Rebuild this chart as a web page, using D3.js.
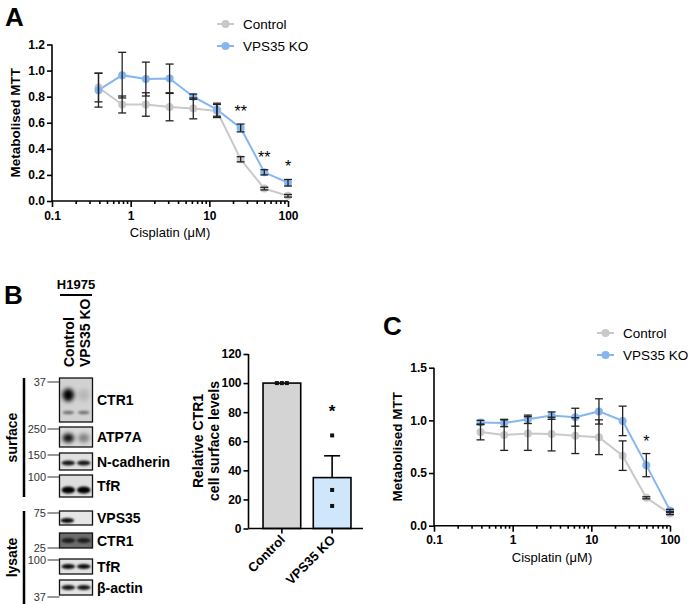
<!DOCTYPE html>
<html><head><meta charset="utf-8">
<script src="https://cdn.jsdelivr.net/npm/d3@7/dist/d3.min.js"></script>
<style>
body{margin:0;background:#fff;}
text{font-family:"Liberation Sans",Arial,sans-serif;}
</style></head>
<body>
<script>
// ---------- DATA ----------
const conc = [0.39, 0.78, 1.56, 3.125, 6.25, 12.5, 25, 50, 100];
const aControl = [0.87, 0.74, 0.74, 0.72, 0.71, 0.69, 0.32, 0.095, 0.04];
const aControlErr = [0.11, 0.065, 0.09, 0.105, 0.08, 0.05, 0.02, 0.01, 0.01];
const aKO = [0.85, 0.965, 0.935, 0.94, 0.80, 0.70, 0.56, 0.22, 0.14];
const aKOErr = [0.13, 0.175, 0.13, 0.11, 0.02, 0.05, 0.03, 0.02, 0.025];
const aStars = ["", "", "", "", "", "", "**", "**", "*"];

const cControl = [0.89, 0.86, 0.875, 0.87, 0.855, 0.84, 0.665, 0.265, 0.115];
const cControlErr = [0.075, 0.145, 0.16, 0.16, 0.17, 0.165, 0.14, 0.01, 0.01];
const cKO = [0.98, 0.975, 1.01, 1.045, 1.03, 1.085, 0.995, 0.575, 0.145];
const cKOErr = [0.02, 0.035, 0.04, 0.035, 0.085, 0.12, 0.14, 0.11, 0.01];
const cStars = ["", "", "", "", "", "", "", "*", ""];

const seriesNames = ["Control", "VPS35 KO"];
const xTickLabels = ["0.1", "1", "10", "100"];
const aYTicks = [0, 0.2, 0.4, 0.6, 0.8, 1.0, 1.2];
const cYTicks = [0, 0.5, 1.0, 1.5];

const barCats = ["Control", "VPS35 KO"];
const barMeans = [100, 35];
const barErr = [0, 15];
const barPoints = [[100, 100, 100], [64, 26.5, 15.5]];
const barYTicks = [0, 20, 40, 60, 80, 100, 120];

const blotNames = ["CTR1", "ATP7A", "N-cadherin", "TfR", "VPS35", "CTR1", "TfR", "β-actin"];
const blotCtrl = [1.0, 0.95, 0.9, 1.0, 0.95, 0.75, 0.95, 0.9];
const blotKO = [0.12, 0.4, 0.9, 1.0, 0.0, 0.75, 0.95, 0.9];
const blotMW = ["37", "250", "150", "100", "75", "25", "100", "37"];
const laneNames = ["Control", "VPS35 KO"];

// ---------- STYLE ----------
const grey = "#c9c9c9", blue = "#86b6f2", ink = "#222";
const svg = d3.select("body").append("svg").attr("width", 689).attr("height", 604);
const defs = svg.append("defs");
defs.append("filter").attr("id", "blur").attr("x", "-50%").attr("y", "-100%").attr("width", "200%").attr("height", "300%")
  .append("feGaussianBlur").attr("stdDeviation", 1.1);
defs.append("filter").attr("id", "blur2").attr("x", "-50%").attr("y", "-100%").attr("width", "200%").attr("height", "300%")
  .append("feGaussianBlur").attr("stdDeviation", 2.2);

function panelLabel(t, x, y) {
  svg.append("text").attr("x", x).attr("y", y).text(t)
    .attr("font-size", 26).attr("font-weight", "bold").attr("fill", "#000");
}

function doseChart(o) {
  const g = svg.append("g");
  const x = d3.scaleLog().domain([0.1, 100]).range([o.x0, o.x1]);
  const y = d3.scaleLinear().domain([0, o.ymax]).range([o.y0, o.y1]);
  const minor = [];
  for (let d = 0.1; d < 100; d *= 10) for (let k = 2; k <= 9; k++) minor.push(+(d * k).toPrecision(3));
  const xa = g.append("g").attr("transform", `translate(0,${o.y0})`)
    .call(d3.axisBottom(x).tickValues([0.1, 1, 10, 100]).tickFormat((d, i) => xTickLabels[i]).tickSize(6).tickPadding(4));
  const xm = g.append("g").attr("transform", `translate(0,${o.y0})`)
    .call(d3.axisBottom(x).tickValues(minor).tickFormat("").tickSize(3));
  xm.select(".domain").remove();
  const ya = g.append("g").attr("transform", `translate(${o.x0},0)`)
    .call(d3.axisLeft(y).tickValues(o.yTicks).tickFormat(d3.format(".1f")).tickSize(5).tickPadding(2));
  [xa, xm, ya].forEach(a => {
    a.selectAll("path,line").attr("stroke", "#000").attr("stroke-width", 1.6);
    a.selectAll("text").attr("font-size", 12).attr("font-weight", "bold").attr("fill", "#000");
  });
  xa.select(".domain").attr("d", `M${o.x0},0H${o.x1}`);
  ya.select(".domain").attr("d", `M0,${o.y0}V${o.y1}`);
  g.append("text").attr("x", (o.x0 + o.x1) / 2).attr("y", o.y0 + 36).attr("text-anchor", "middle")
    .attr("font-size", 13).text("Cisplatin (μM)");
  g.append("text").attr("transform", `translate(${o.x0 - 32},${(o.y0 + o.y1) / 2}) rotate(-90)`)
    .attr("text-anchor", "middle").attr("font-size", 13.5).attr("font-weight", "bold").text("Metabolised MTT");
  const series = [[o.ctrl, o.ctrlErr, grey], [o.ko, o.koErr, blue]];
  const line = d3.line().x((d, i) => x(conc[i])).y(d => y(d));
  series.forEach(([v, e, c]) => {
    g.append("path").datum(v).attr("d", line).attr("fill", "none").attr("stroke", c).attr("stroke-width", 2);
  });
  series.forEach(([v, e, c]) => {
    g.selectAll(null).data(v).enter().append("circle")
      .attr("cx", (d, i) => x(conc[i])).attr("cy", d => y(d)).attr("r", 4).attr("fill", c);
  });
  series.forEach(([v, e, c]) => {
    const eb = g.selectAll(null).data(v).enter().append("g").attr("stroke", ink).attr("stroke-width", 1.3);
    eb.append("line").attr("x1", (d, i) => x(conc[i])).attr("x2", (d, i) => x(conc[i]))
      .attr("y1", (d, i) => y(d - e[i])).attr("y2", (d, i) => y(d + e[i]));
    eb.append("line").attr("x1", (d, i) => x(conc[i]) - 4).attr("x2", (d, i) => x(conc[i]) + 4)
      .attr("y1", (d, i) => y(d - e[i])).attr("y2", (d, i) => y(d - e[i]));
    eb.append("line").attr("x1", (d, i) => x(conc[i]) - 4).attr("x2", (d, i) => x(conc[i]) + 4)
      .attr("y1", (d, i) => y(d + e[i])).attr("y2", (d, i) => y(d + e[i]));
  });
  g.selectAll(null).data(o.stars).enter().append("text")
    .attr("x", (d, i) => x(conc[i])).attr("y", (d, i) => y(o.ko[i] + o.koErr[i]) - 7)
    .attr("text-anchor", "middle").attr("font-size", 16).attr("fill", "#000").text(d => d);
  seriesNames.forEach((n, i) => {
    const ly = o.ly + i * 22, c = i ? blue : grey;
    g.append("line").attr("x1", o.lx).attr("x2", o.lx + 17).attr("y1", ly).attr("y2", ly).attr("stroke", c).attr("stroke-width", 2);
    g.append("circle").attr("cx", o.lx + 8.5).attr("cy", ly).attr("r", 4).attr("fill", c);
    g.append("text").attr("x", o.lx + 26).attr("y", ly + 5).attr("font-size", 13.5).text(n);
  });
}

// ---------- PANEL A ----------
panelLabel("A", 5, 26);
doseChart({x0: 52, x1: 288, y0: 201, y1: 44.5, ymax: 1.2, yTicks: aYTicks,
  ctrl: aControl, ctrlErr: aControlErr, ko: aKO, koErr: aKOErr, stars: aStars, lx: 217, ly: 24});

// ---------- PANEL C ----------
panelLabel("C", 383, 335);
doseChart({x0: 434, x1: 670, y0: 525.7, y1: 367.7, ymax: 1.5, yTicks: cYTicks,
  ctrl: cControl, ctrlErr: cControlErr, ko: cKO, koErr: cKOErr, stars: cStars, lx: 597, ly: 333});

// ---------- PANEL B : blots ----------
panelLabel("B", 4, 304);
const bx0 = 59.5, bx1 = 92.5;
const boxes = [[378, 422], [427, 447], [453, 470], [475, 497], [511, 525], [533, 548], [559, 574], [580, 595]];
const bandY = [395, 438, 463, 490, 520.5, 540.5, 566.5, 587.5];
const bg = ["#d2d2d2", "#dadada", "#e0e0e0", "#dedede", "#e6e6e6", "#6c6c6c", "#e2e2e2", "#e4e4e4"];
const lane = d3.scaleBand().domain(laneNames).range([bx0 + 2, bx1 - 2]).paddingInner(0.12);
const bl = svg.append("g");
blotNames.forEach((n, i) => {
  const [t, b] = boxes[i];
  bl.append("rect").attr("x", bx0).attr("y", t).attr("width", bx1 - bx0).attr("height", b - t)
    .attr("fill", bg[i]).attr("stroke", "#111").attr("stroke-width", 1.3);
  [blotCtrl[i], blotKO[i]].forEach((v, j) => {
    if (v <= 0) return;
    const cx = lane(laneNames[j]) + lane.bandwidth() / 2;
    const big = i === 0 || i === 1;
    const ry = i === 0 ? (j === 0 ? 6.5 : 6) : i === 3 ? 3.6 : i === 1 ? 4.5 : 2.4;
    bl.append("ellipse").attr("cx", cx + (i === 4 && j === 0 ? -1 : 0)).attr("cy", bandY[i]).attr("rx", lane.bandwidth() / 2 - (big ? 1 : 0))
      .attr("ry", ry).attr("fill", "#000").attr("opacity", v)
      .attr("filter", big ? "url(#blur2)" : "url(#blur)");
    if (i === 0) {
      bl.append("ellipse").attr("cx", cx).attr("cy", 412.5).attr("rx", lane.bandwidth() / 2 - 1).attr("ry", 1.8)
        .attr("fill", "#000").attr("opacity", 0.45).attr("filter", "url(#blur)");
    }
  });
  bl.append("text").attr("x", 97).attr("y", (t + b) / 2 + 5).attr("font-size", 14).attr("font-weight", "bold").text(n);
});
// molecular-weight markers
const mwY = [382, 429, 455, 477, 513, 548, 560, 597];
blotMW.forEach((m, i) => {
  const yy = mwY[i];
  bl.append("text").attr("x", 46).attr("y", yy + 4).attr("text-anchor", "end").attr("font-size", 11).attr("fill", "#333").text(m);
  bl.append("line").attr("x1", 47.5).attr("x2", bx0).attr("y1", yy).attr("y2", yy).attr("stroke", "#333").attr("stroke-width", 1);
});
// lane headers
bl.append("text").attr("x", 76).attr("y", 289).attr("text-anchor", "middle").attr("font-size", 13).attr("font-weight", "bold").text("H1975");
bl.append("line").attr("x1", 60).attr("x2", 92).attr("y1", 295).attr("y2", 295).attr("stroke", "#000").attr("stroke-width", 2);
laneNames.forEach(n => {
  const cx = lane(n) + lane.bandwidth() / 2 + 6;
  bl.append("text").attr("transform", `translate(${cx},367) rotate(-90)`).attr("font-size", 14).attr("font-weight", "bold").text(n);
});
[["surface", 378, 497], ["lysate", 511, 604]].forEach(([n, t, b]) => {
  bl.append("line").attr("x1", 24).attr("x2", 24).attr("y1", t).attr("y2", b).attr("stroke", "#000").attr("stroke-width", 2.5);
  bl.append("text").attr("transform", `translate(${17},${(t + b) / 2}) rotate(-90)`).attr("text-anchor", "middle")
    .attr("font-size", 14).attr("font-weight", "bold").text(n);
});

// ---------- PANEL B : bar chart ----------
const bg2 = svg.append("g");
const bxs = d3.scaleBand().domain(barCats).range([258, 356]).paddingInner(0.25).paddingOuter(0.1);
const bys = d3.scaleLinear().domain([0, 120]).range([528.5, 354]);
const barFill = ["#d4d4d4", "#d0e6fb"];
bg2.selectAll(null).data(barMeans).enter().append("rect")
  .attr("x", (d, i) => bxs(barCats[i])).attr("width", bxs.bandwidth())
  .attr("y", d => bys(d)).attr("height", d => bys(0) - bys(d))
  .attr("fill", (d, i) => barFill[i]).attr("stroke", "#000").attr("stroke-width", 1.6);
barMeans.forEach((m, i) => {
  if (!barErr[i]) return;
  const cx = bxs(barCats[i]) + bxs.bandwidth() / 2;
  bg2.append("line").attr("x1", cx).attr("x2", cx).attr("y1", bys(m)).attr("y2", bys(m + barErr[i])).attr("stroke", "#000").attr("stroke-width", 1.6);
  bg2.append("line").attr("x1", cx - 8).attr("x2", cx + 8).attr("y1", bys(m + barErr[i])).attr("y2", bys(m + barErr[i])).attr("stroke", "#000").attr("stroke-width", 1.6);
});
barPoints.forEach((pts, i) => {
  const cx = bxs(barCats[i]) + bxs.bandwidth() / 2;
  pts.forEach((p, k) => {
    const dx = i === 0 ? (k - 1) * 5 : 0;
    bg2.append("rect").attr("x", cx + dx - 2).attr("y", bys(p) - 2).attr("width", 4).attr("height", 4).attr("fill", "#111");
  });
});
bg2.append("text").attr("x", bxs("VPS35 KO") + bxs.bandwidth() / 2).attr("y", bys(77)).attr("text-anchor", "middle")
  .attr("font-size", 17).attr("font-weight", "bold").text("*");
const bxa = bg2.append("g").attr("transform", `translate(0,${bys(0)})`)
  .call(d3.axisBottom(bxs).tickSize(5).tickFormat(""));
bxa.select(".domain").attr("d", "M248.5,0H363");
const bya = bg2.append("g").attr("transform", "translate(248.5,0)")
  .call(d3.axisLeft(bys).tickValues(barYTicks).tickSize(5).tickPadding(2));
bya.select(".domain").attr("d", `M0,${bys(0)}V${bys(120)}`);
[bxa, bya].forEach(a => {
  a.selectAll("path,line").attr("stroke", "#000").attr("stroke-width", 1.6);
  a.selectAll("text").attr("font-size", 12).attr("font-weight", "bold").attr("fill", "#000");
});
barCats.forEach(c => {
  const cx = bxs(c) + bxs.bandwidth() / 2;
  bg2.append("text").attr("transform", `translate(${cx + 4},${bys(0) + 12}) rotate(-45)`).attr("text-anchor", "end")
    .attr("font-size", 13).attr("font-weight", "bold").text(c);
});
["Relative CTR1", "cell surface levels"].forEach((t, i) => {
  bg2.append("text").attr("transform", `translate(${203 + i * 16},${441}) rotate(-90)`).attr("text-anchor", "middle")
    .attr("font-size", 14).attr("font-weight", "bold").text(t);
});
</script>
</body></html>
